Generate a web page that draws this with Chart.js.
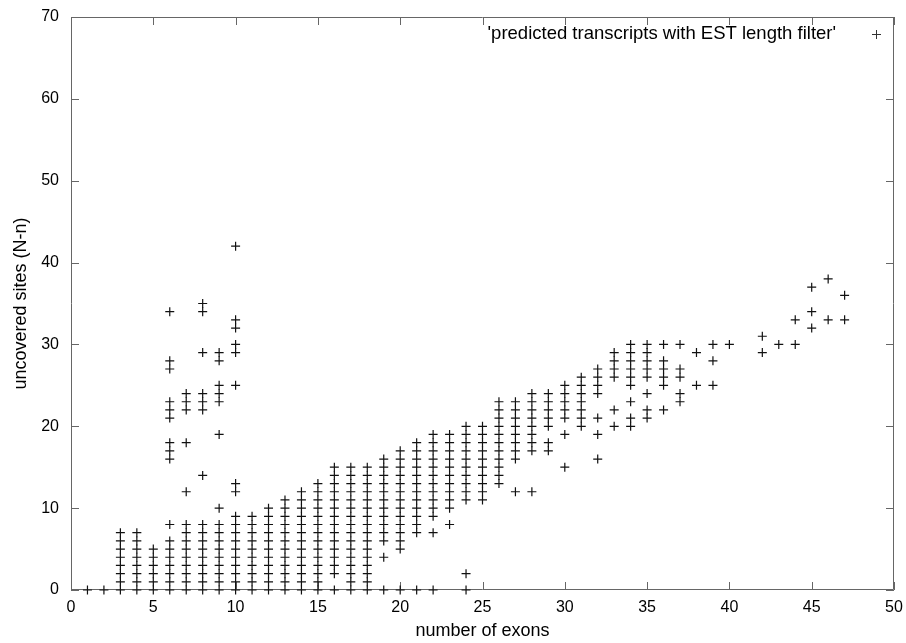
<!DOCTYPE html>
<html><head><meta charset="utf-8">
<script src="https://cdn.jsdelivr.net/npm/chart.js@4/dist/chart.umd.min.js"></script>
<style>html,body{margin:0;padding:0;background:#fff}#wrap{width:906px;height:643px}</style>
</head><body><div id="wrap"><canvas id="c" width="906" height="643"></canvas></div>
<script>
// number of exons (x categories)
const exonCounts = [1,2,3,4,5,6,7,8,9,10,11,12,13,14,15,16,17,18,19,20,21,22,23,24,25,26,27,28,29,30,31,32,33,34,35,36,37,38,39,40,42,43,44,45,46,47];
// uncovered sites (N-n) observed for each exon count
const uncoveredSites = [
  [0],
  [0],
  [0,1,2,3,4,5,6,7],
  [0,1,2,3,4,5,6,7],
  [0,1,2,3,4,5],
  [0,1,2,3,4,5,6,8,16,17,18,21,22,23,27,28,34],
  [0,1,2,3,4,5,6,7,8,12,18,22,23,24],
  [0,1,2,3,4,5,6,7,8,14,22,23,24,29,34,35],
  [0,1,2,3,4,5,6,7,8,10,19,23,24,25,28,29],
  [0,1,2,3,4,5,6,7,8,9,12,13,25,29,30,32,33,42],
  [0,1,2,3,4,5,6,7,8,9],
  [0,1,2,3,4,5,6,7,8,9,10],
  [0,1,2,3,4,5,6,7,8,9,10,11],
  [0,1,2,3,4,5,6,7,8,9,10,11,12],
  [0,1,2,3,4,5,6,7,8,9,10,11,12,13],
  [0,2,3,4,5,6,7,8,9,10,11,12,13,14,15],
  [0,1,2,3,4,5,6,7,8,9,10,11,12,13,14,15],
  [0,1,2,3,4,5,6,7,8,9,10,11,12,13,14,15],
  [0,4,6,7,8,9,10,11,12,13,14,15,16],
  [0,5,6,7,8,9,10,11,12,13,14,15,16,17],
  [0,7,8,9,10,11,12,13,14,15,16,17,18],
  [0,7,9,10,11,12,13,14,15,16,17,18,19],
  [8,10,11,12,13,14,15,16,17,18,19],
  [0,2,11,12,13,14,15,16,17,18,19,20],
  [11,12,13,14,15,16,17,18,19,20],
  [13,14,15,16,17,18,19,20,21,22,23],
  [12,16,17,18,19,20,21,22,23],
  [12,17,18,19,20,21,22,23,24],
  [17,18,20,21,22,23,24],
  [15,19,21,22,23,24,25],
  [20,21,22,23,24,25,26],
  [16,19,21,24,25,26,27],
  [20,22,26,27,28,29],
  [20,21,23,25,26,27,28,29,30],
  [21,22,24,26,27,28,29,30],
  [22,25,26,27,28,30],
  [23,24,26,27,30],
  [25,29],
  [25,28,30],
  [30],
  [29,31],
  [30],
  [30,33],
  [32,34,37],
  [33,38],
  [33,36]
];
const xTickValues = [0,5,10,15,20,25,30,35,40,45,50];
const yTickValues = [0,10,20,30,40,50,60,70];
const seriesLabel = "'predicted transcripts with EST length filter'";
const xTitle = 'number of exons';
const yTitle = 'uncovered sites (N-n)';

const points = [];
exonCounts.forEach((x, i) => uncoveredSites[i].forEach(y => points.push({x: x, y: y})));

const FONT = '"Liberation Sans", Arial, Helvetica, sans-serif';

const framePlugin = {
  id: 'frame',
  beforeDatasetsDraw(chart) {
    const {ctx, chartArea: a, scales: {x, y}} = chart;
    ctx.save();
    ctx.strokeStyle = '#666';
    ctx.lineWidth = 1;
    ctx.beginPath();
    ctx.rect(Math.round(a.left) + 0.5, Math.round(a.top) + 0.5, Math.round(a.right - a.left) - 1, Math.round(a.bottom - a.top) - 1);
    const L = 8;
    x.ticks.forEach(t => {
      const px = Math.round(x.getPixelForValue(t.value)) + 0.5;
      ctx.moveTo(px, a.bottom); ctx.lineTo(px, a.bottom - L);
      ctx.moveTo(px, a.top); ctx.lineTo(px, a.top + L);
    });
    y.ticks.forEach(t => {
      const py = Math.round(y.getPixelForValue(t.value)) + 0.5;
      ctx.moveTo(a.left, py); ctx.lineTo(a.left + L, py);
      ctx.moveTo(a.right, py); ctx.lineTo(a.right - L, py);
    });
    ctx.stroke();
    ctx.restore();
  },
  afterDraw(chart) {
    const {ctx, chartArea: a} = chart;
    const cx = a.right - 18, cy = a.top + 17;
    ctx.save();
    ctx.fillStyle = '#000';
    ctx.font = '18.5px ' + FONT;
    ctx.textAlign = 'right';
    ctx.textBaseline = 'middle';
    ctx.fillText(seriesLabel, cx - 40, cy);
    ctx.strokeStyle = '#333';
    ctx.lineWidth = 1;
    ctx.beginPath();
    ctx.moveTo(cx - 4, cy + 0.5); ctx.lineTo(cx + 5, cy + 0.5);
    ctx.moveTo(cx + 0.5, cy - 4); ctx.lineTo(cx + 0.5, cy + 5);
    ctx.stroke();
    ctx.restore();
  }
};

new Chart(document.getElementById('c'), {
  type: 'scatter',
  data: {
    datasets: [{
      label: seriesLabel,
      data: points,
      pointStyle: 'cross',
      pointRadius: 4.5,
      pointHoverRadius: 4.5,
      borderColor: '#111',
      backgroundColor: '#111',
      borderWidth: 1.2,
      clip: false
    }]
  },
  plugins: [framePlugin],
  options: {
    responsive: false,
    animation: false,
    devicePixelRatio: 1,
    layout: {padding: {top: 17, right: 12, left: 0, bottom: 0}},
    plugins: {legend: {display: false}, tooltip: {enabled: false}},
    scales: {
      x: {
        type: 'linear', min: 0, max: 50,
        afterBuildTicks: s => { s.ticks = xTickValues.map(v => ({value: v})); },
        grid: {display: false, drawTicks: false},
        border: {display: false},
        ticks: {color: '#000', padding: 8, font: {size: 16, family: FONT}, autoSkip: false, maxRotation: 0},
        title: {display: true, text: xTitle, color: '#000', font: {size: 18, family: FONT}, padding: {top: 0, bottom: 1}},
        afterFit: s => { s.height = 53; s.paddingLeft = 0; s.paddingRight = 0; }
      },
      y: {
        type: 'linear', min: 0, max: 70,
        afterBuildTicks: s => { s.ticks = yTickValues.map(v => ({value: v})); },
        grid: {display: false, drawTicks: false},
        border: {display: false},
        ticks: {color: '#000', padding: 12, font: {size: 16, family: FONT}, autoSkip: false},
        title: {display: true, text: yTitle, color: '#000', font: {size: 18, family: FONT}, padding: {top: 10, bottom: 0}},
        afterFit: s => { s.width = 71; s.paddingTop = 0; s.paddingBottom = 0; }
      }
    }
  }
});
</script>
</body></html>
